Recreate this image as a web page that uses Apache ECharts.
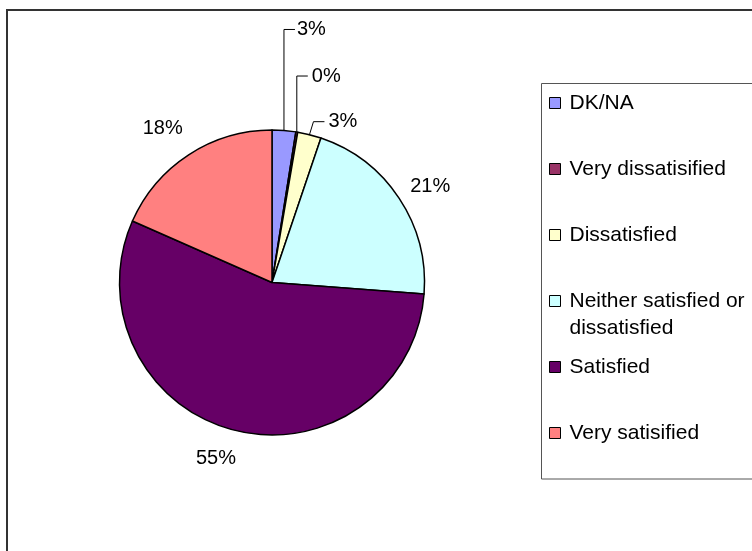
<!DOCTYPE html>
<html><head><meta charset="utf-8">
<script src="https://cdn.jsdelivr.net/npm/echarts@6/dist/echarts.min.js"></script>
<style>html,body{margin:0;padding:0;background:#fff}#c{width:752px;height:551px}</style>
</head><body><div id="c"></div>
<script>
// ---- data ----
const categories = ['DK/NA', 'Very dissatisified', 'Dissatisfied', 'Neither satisfied or dissatisfied', 'Satisfied', 'Very satisified'];
const legendLabels = ['DK/NA', 'Very dissatisified', 'Dissatisfied', 'Neither satisfied or\ndissatisfied', 'Satisfied', 'Very satisified'];
const values = [2.5, 0.2, 2.5, 21.0, 55.4, 18.4];
const colors = ['#9999FF', '#993366', '#FFFFCC', '#CCFFFF', '#660066', '#FF8080'];

// ---- layout / style ----
const FONT = '"Liberation Sans", Arial, sans-serif';
const LEG_FS = 21;
const CX = 272, CY = 282.5, R = 152.5;
const leaders = { 0: { rise: 101, dx: 0, run: 11, gap: 2 }, 1: { rise: 56, dx: 0, run: 11, gap: 4 }, 2: { rise: 13, dx: 4, run: 11, gap: 4 } };
const labelOffsets = { 3: [31, -12], 4: [-19, 27.6], 5: [-26, -26] };
const legendSlots = [103, 169, 235, 301, 367, 433];

const total = values.reduce((a, b) => a + b, 0);
function anchorOf(i) {
  let s = 0;
  for (let k = 0; k < i; k++) s += values[k];
  const mid = (s + values[i] / 2) / total * 2 * Math.PI;
  return [CX + R * Math.sin(mid), CY - R * Math.cos(mid)];
}

const legends = categories.map((name, i) => {
  const lines = legendLabels[i].split('\n');
  const two = lines.length > 1;
  const lh = two ? 27 : 22;
  const h = two ? 81 : 22;
  return {
    orient: 'vertical', left: 549, top: legendSlots[i] - h / 2, padding: 0,
    selectedMode: false, icon: 'rect', itemWidth: 11, itemHeight: 11,
    itemStyle: { borderColor: '#000', borderWidth: 1 },
    data: [name],
    formatter: () => lines.map(s => '{t|' + s + '}').join('\n'),
    textStyle: {
      fontFamily: FONT, fontSize: LEG_FS, color: '#000', lineHeight: lh,
      padding: two ? [27, 0, 0, 4] : [0, 0, 0, 4],
      rich: { t: { fontFamily: FONT, fontSize: LEG_FS, color: '#000', lineHeight: lh } }
    }
  };
});

const chart = echarts.init(document.getElementById('c'), null, { renderer: 'canvas' });
chart.setOption({
  animation: false,
  backgroundColor: '#fff',
  graphic: [
    { type: 'rect', shape: { x: 7, y: 10, width: 800, height: 600 }, style: { fill: 'none', stroke: '#333', lineWidth: 2 }, silent: true },
    { type: 'rect', shape: { x: 541.5, y: 83.5, width: 300, height: 395.5 }, style: { fill: 'none', stroke: '#555', lineWidth: 1 }, silent: true }
  ],
  legend: legends,
  series: [{
    type: 'pie',
    center: [CX, CY],
    radius: R,
    startAngle: 90,
    clockwise: true,
    avoidLabelOverlap: false,
    itemStyle: { borderColor: '#000', borderWidth: 1.5 },
    label: {
      show: true, position: 'outside', fontFamily: FONT, fontSize: 20, color: '#000',
      formatter: p => Math.round(p.percent) + '%'
    },
    labelLine: { show: false, length: 5, length2: 5, lineStyle: { color: '#000', width: 1 } },
    labelLayout: function (p) {
      const i = p.dataIndex;
      const a = anchorOf(i);
      if (leaders[i]) {
        const L = leaders[i];
        const y = a[1] - L.rise;
        const x1 = a[0] + L.dx, x2 = x1 + L.run;
        return { x: x2 + L.gap, y: y, align: 'left', verticalAlign: 'middle', labelLinePoints: [a, [x1, y], [x2, y]] };
      }
      const o = labelOffsets[i];
      return { x: a[0] + o[0], y: a[1] + o[1], align: 'center', verticalAlign: 'middle' };
    },
    data: categories.map((name, i) => ({
      name: name, value: values[i], itemStyle: { color: colors[i] },
      labelLine: { show: !!leaders[i] }
    }))
  }]
});
</script></body></html>
